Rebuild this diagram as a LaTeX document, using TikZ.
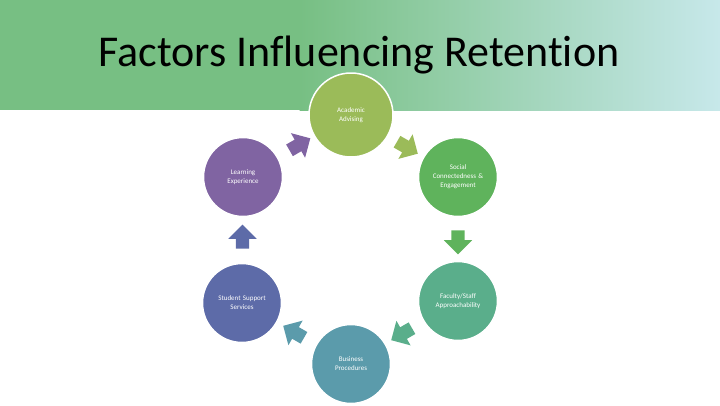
\documentclass[tikz,border=0pt]{standalone}
\usepackage{fontspec}
\setmainfont{Carlito}[Ligatures=NoCommon]
\usetikzlibrary{shapes.arrows, calc}

\definecolor{bandgreen}{HTML}{77BF83}
\definecolor{bandcyan}{HTML}{C7E8EA}
\definecolor{acadgreen}{HTML}{9BBB59}
\definecolor{socialgreen}{HTML}{5FB35C}
\definecolor{facultyteal}{HTML}{5AAE8B}
\definecolor{businessteal}{HTML}{5B9BAB}
\definecolor{supportblue}{HTML}{5D6BA8}
\definecolor{learnpurple}{HTML}{8064A2}

\begin{document}
\begin{tikzpicture}[x=1pt, y=-1pt,
    factor/.style={circle, draw=white, line width=1.5pt, minimum size=79pt,
                   inner sep=0pt, text width=64pt, align=center, text=white,
                   font=\fontsize{7}{9}\selectfont},
    blockarrow/.style={single arrow, minimum height=24pt, inner xsep=0pt,
                       inner ysep=6.5pt, single arrow head extend=7.5pt}
]
    \useasboundingbox (0,0) rectangle (720,405);

    % header band
    \fill[bandgreen] (0,0) rectangle (300,110);
    \shade[left color=bandgreen, right color=bandcyan] (299.5,0) rectangle (720,110);
    \node[anchor=base, font=\fontsize{44}{50}\selectfont] (title) at (359,66)
        {Factors Influencing Retention};

    % factors
    \node[factor, fill=acadgreen, minimum size=84pt] (advising) at (351,115) {Academic\\Advising};
    \node[factor, fill=socialgreen] (social) at (458,177) {Social\\Connectedness \&\\Engagement};
    \node[factor, fill=facultyteal] (faculty) at (458,301) {Faculty/Staff\\Approachability};
    \node[factor, fill=businessteal] (business) at (351,364) {Business\\Procedures};
    \node[factor, fill=supportblue] (support) at (242,303) {Student Support\\Services};
    \node[factor, fill=learnpurple] (learning) at (243,177) {Learning\\Experience};

    % block arrows between factors
    \node[blockarrow, fill=acadgreen, rotate=-30] (adv2soc) at ($(advising)!0.5!(social)$) {};
    \node[blockarrow, fill=socialgreen, rotate=-90] (soc2fac) at ($(social)!0.5!(faculty)$) {};
    \node[blockarrow, fill=facultyteal, rotate=-150] (fac2bus) at ($(faculty)!0.5!(business)$) {};
    \node[blockarrow, fill=businessteal, rotate=150] (bus2sup) at ($(business)!0.5!(support)$) {};
    \node[blockarrow, fill=supportblue, rotate=90] (sup2lea) at ($(support)!0.5!(learning)$) {};
    \node[blockarrow, fill=learnpurple, rotate=30] (lea2adv) at ($(learning)!0.5!(advising)$) {};
\end{tikzpicture}
\end{document}
